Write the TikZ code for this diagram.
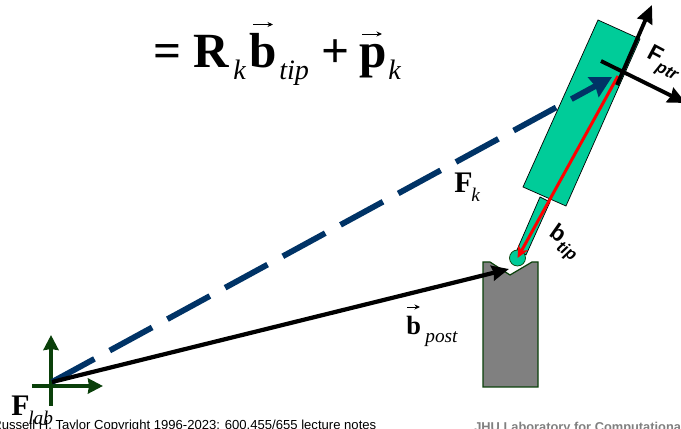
\documentclass[tikz,border=0pt]{standalone}
\usepackage{fontspec}
\setmainfont{Liberation Serif}
\setsansfont{Liberation Sans}
\usetikzlibrary{arrows.meta}
\definecolor{probegreen}{HTML}{00CC99}
\definecolor{framegreen}{HTML}{0A400A}
\definecolor{framekblue}{HTML}{003366}
\newcommand{\tiltsub}[1]{\raisebox{-0.3em}{\fontsize{9.5}{11}\selectfont\itshape #1}}
\begin{document}
\begin{tikzpicture}[
  x=0.02cm, y=-0.02cm,
  eqn/.style={anchor=base west, inner sep=0pt, font=\fontsize{28}{30}\selectfont\bfseries},
  eqnsub/.style={anchor=base west, inner sep=0pt, font=\fontsize{16}{18}\selectfont\itshape},
  tag/.style={anchor=base west, inner sep=0pt, font=\fontsize{17}{19}\selectfont\bfseries},
  tagsub/.style={anchor=base west, inner sep=0pt, font=\fontsize{11}{13}\selectfont\itshape},
  tilted/.style={inner sep=0pt, font=\fontsize{13}{15}\selectfont\sffamily\bfseries},
  footer/.style={anchor=base west, inner sep=0pt, font=\fontsize{7.45}{9}\selectfont\sffamily},
  vecbar/.style={-{Stealth[length=1.1mm, width=1mm]}, line width=0.5pt, black},
  axis/.style={-{Stealth[length=3.6mm, width=3.2mm, inset=0.3mm]}, line width=2.2pt, black},
  labaxis/.style={-{Stealth[length=3mm, width=3mm, inset=0.2mm]}, line width=2pt, framegreen},
]
\path[use as bounding box] (0,0) rectangle (681,429);
\clip (0,0) rectangle (681,429);

% === PROBE AND POST ===
\draw[fill=probegreen] (598,20) -- (640,39) -- (566,206) -- (523,187) -- cycle;
\draw[fill=probegreen] (540,197) -- (550,202) -- (526,255) -- (517,250) -- cycle;
\draw[fill=gray, draw=framegreen, line width=0.7pt] (483,262) -- (490,262) -- (510,275) -- (532,262)
  -- (538,262) -- (538,387) -- (483,387) -- cycle;
\node[circle, draw=framegreen, fill=probegreen, minimum size=0.32cm, inner sep=0pt] (ball) at (517.5,258) {};

% === FRAMES ===
\coordinate (lab) at (52,382);
\coordinate (ptr) at (612,77);
\coordinate (postend) at (509,269);
\coordinate (tipstart) at (618,76);

\draw[labaxis] (51,406) -- (51,335);
\draw[labaxis] (32,386) -- (103,386);

\draw[-{Stealth[length=4.2mm, width=4.4mm, inset=0.4mm]}, line width=3.3pt, framekblue,
  dash pattern=on 27.5pt off 9.9pt] (lab) -- (ptr);
\draw[-{Stealth[length=3.4mm, width=3mm, inset=0.3mm]}, line width=2.4pt, black] (lab) -- (postend);
\draw[-{Stealth[length=2.4mm, width=2.2mm]}, line width=1.7pt, red] (tipstart) -- (ball.center);

\draw[axis] (617,85) -- (652,5);
\draw[axis] (601,61) -- (686,103);

% === EQUATION ===
\node[eqn] (eq) at (153,68) {=};
\node[eqn] (rot) at (193,68) {R};
\node[eqnsub] (rotk) at (233,80) {k};
\node[eqn] (btip) at (249,68) {b};
\node[eqnsub] (tiptxt) at (279,80) {tip};
\node[eqn] (plus) at (321,68) {+};
\node[eqn] (pk) at (359,68) {p};
\node[eqnsub] (pksub) at (388,80) {k};
\draw[vecbar] (253,24.5) -- (273,24.5);
\draw[vecbar] (362,34) -- (382,34);

% === LABELS ===
\node[tag] (fk) at (454,193) {F};
\node[tagsub] (fksub) at (471,202) {k};
\node[tag, font=\fontsize{15}{17}\selectfont\bfseries] (bpost) at (406,335) {b};
\node[tagsub] (bpostsub) at (425,343) {post};
\draw[vecbar] (407,307) -- (420,307);
\node[tag] (flab) at (11,416) {F};
\node[tagsub] (flabsub) at (28,425) {lab};

\node[tilted, rotate=-28] (fptr) at (663,64) {F\tiltsub{ptr}};
\node[tilted, rotate=-35] (btiplab) at (564,243) {b\tiltsub{tip}};

\node[footer] (credit) at (-8,429.5) {Russell H. Taylor Copyright 1996-2023: 600.455/655 lecture notes};
\node[footer, font=\fontsize{7.3}{9}\selectfont\sffamily\bfseries, text=gray] (lablab) at (474,431.5) {JHU Laboratory for Computational};
\end{tikzpicture}
\end{document}
